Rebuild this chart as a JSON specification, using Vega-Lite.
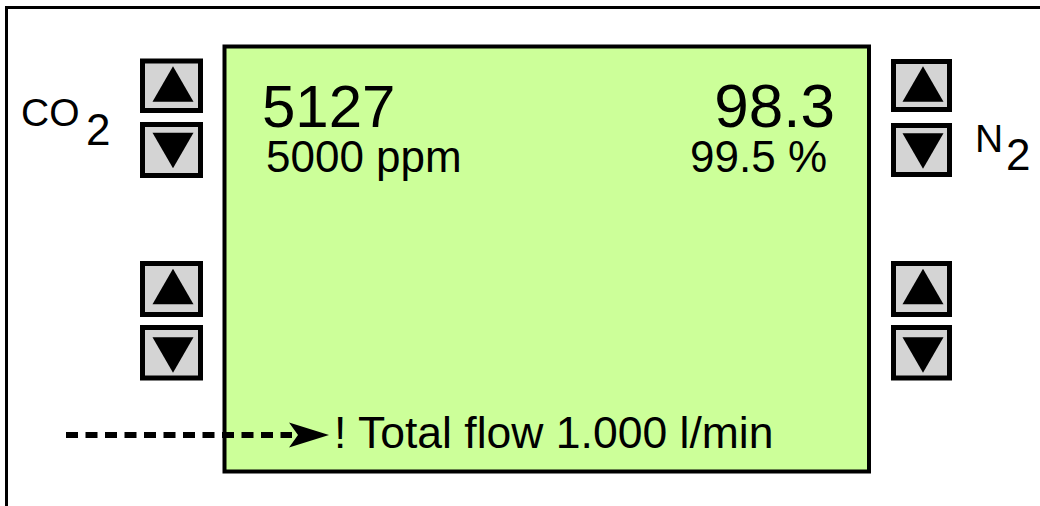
{
  "$schema": "https://vega.github.io/schema/vega-lite/v6.json",
  "width": 1040,
  "height": 506,
  "autosize": {"type": "fit", "contains": "padding"},
  "padding": 0,
  "background": "white",
  "config": {"view": {"stroke": null}, "text": {"font": "Liberation Sans", "color": "#000000"}},
  "datasets": {
    "frame": [{"part": "outer frame", "x0": 6.5, "x1": 1070, "y0": 7.5, "y1": 540}],
    "panel": [{"part": "display", "x0": 224.5, "x1": 869, "y0": 46.5, "y1": 471.5}],
    "buttons": [
      {"gas": "CO2", "slot": "upper", "dir": "up", "x0": 142.5, "x1": 200.5, "y0": 61, "y1": 110.5},
      {"gas": "CO2", "slot": "upper", "dir": "down", "x0": 142.5, "x1": 200.5, "y0": 124.5, "y1": 175.5},
      {"gas": "CO2", "slot": "lower", "dir": "up", "x0": 142.5, "x1": 200.5, "y0": 263.5, "y1": 314.5},
      {"gas": "CO2", "slot": "lower", "dir": "down", "x0": 142.5, "x1": 200.5, "y0": 327.5, "y1": 378},
      {"gas": "N2", "slot": "upper", "dir": "up", "x0": 893.5, "x1": 949.5, "y0": 61.5, "y1": 109.5},
      {"gas": "N2", "slot": "upper", "dir": "down", "x0": 893.5, "x1": 949.5, "y0": 125.5, "y1": 174.5},
      {"gas": "N2", "slot": "lower", "dir": "up", "x0": 893.5, "x1": 949.5, "y0": 263.5, "y1": 314.5},
      {"gas": "N2", "slot": "lower", "dir": "down", "x0": 893.5, "x1": 949.5, "y0": 327.5, "y1": 378}
    ],
    "glyphs": [
      {"gas": "CO2", "slot": "upper", "dir": "up", "cx": 173, "cy": 84},
      {"gas": "CO2", "slot": "upper", "dir": "down", "cx": 173, "cy": 150.5},
      {"gas": "CO2", "slot": "lower", "dir": "up", "cx": 173, "cy": 286.5},
      {"gas": "CO2", "slot": "lower", "dir": "down", "cx": 173, "cy": 355},
      {"gas": "N2", "slot": "upper", "dir": "up", "cx": 923, "cy": 84},
      {"gas": "N2", "slot": "upper", "dir": "down", "cx": 923, "cy": 151},
      {"gas": "N2", "slot": "lower", "dir": "up", "cx": 923, "cy": 286.5},
      {"gas": "N2", "slot": "lower", "dir": "down", "cx": 923, "cy": 355}
    ],
    "arrow": [{"part": "pointer", "x0": 66, "x1": 292, "y": 435, "tipx": 309}],
    "labels": [
      {"role": "reading-left", "text": "5127", "x": 262, "y": 127},
      {"role": "setpoint-left", "text": "5000 ppm", "x": 266, "y": 172},
      {"role": "reading-right", "text": "98.3", "x": 835, "y": 127},
      {"role": "setpoint-right", "text": "99.5 %", "x": 827, "y": 172},
      {"role": "status", "text": "! Total flow 1.000 l/min", "x": 334, "y": 448},
      {"role": "gas", "text": "CO", "x": 21, "y": 126},
      {"role": "gas", "text": "N", "x": 975, "y": 152},
      {"role": "sub", "text": "2", "x": 86, "y": 145},
      {"role": "sub", "text": "2", "x": 1006, "y": 170}
    ]
  },
  "layer": [
    {
      "data": {"name": "frame"},
      "mark": {"type": "rect", "fillOpacity": 0, "stroke": "#000000", "strokeWidth": 3, "clip": true},
      "encoding": {
        "x": {"field": "x0", "type": "quantitative", "scale": {"domain": [0, 1040], "nice": false, "zero": false}, "axis": null},
        "x2": {"field": "x1"},
        "y": {"field": "y0", "type": "quantitative", "scale": {"domain": [0, 506], "nice": false, "zero": false, "reverse": true}, "axis": null},
        "y2": {"field": "y1"}
      }
    },
    {
      "data": {"name": "panel"},
      "mark": {"type": "rect", "fill": "#ccff99", "stroke": "#000000", "strokeWidth": 4},
      "encoding": {
        "x": {"field": "x0", "type": "quantitative", "axis": null},
        "x2": {"field": "x1"},
        "y": {"field": "y0", "type": "quantitative", "axis": null},
        "y2": {"field": "y1"}
      }
    },
    {
      "data": {"name": "buttons"},
      "mark": {"type": "rect", "fill": "#d4d4d4", "stroke": "#000000", "strokeWidth": 5},
      "encoding": {
        "x": {"field": "x0", "type": "quantitative", "axis": null},
        "x2": {"field": "x1"},
        "y": {"field": "y0", "type": "quantitative", "axis": null},
        "y2": {"field": "y1"}
      }
    },
    {
      "data": {"name": "glyphs"},
      "mark": {"type": "point", "filled": true, "color": "#000000", "opacity": 1, "size": 1681, "strokeWidth": 0},
      "encoding": {
        "x": {"field": "cx", "type": "quantitative", "axis": null},
        "y": {"field": "cy", "type": "quantitative", "axis": null},
        "shape": {"field": "dir", "type": "nominal", "scale": {"domain": ["up", "down"], "range": ["triangle-up", "triangle-down"]}, "legend": null}
      }
    },
    {
      "data": {"name": "arrow"},
      "mark": {"type": "rule", "color": "#000000", "strokeWidth": 6, "strokeDash": [12, 7.5], "strokeCap": "butt"},
      "encoding": {
        "x": {"field": "x0", "type": "quantitative", "axis": null},
        "x2": {"field": "x1"},
        "y": {"field": "y", "type": "quantitative", "axis": null}
      }
    },
    {
      "data": {"name": "arrow"},
      "mark": {"type": "point", "filled": true, "color": "#000000", "opacity": 1, "size": 1600, "strokeWidth": 0, "shape": "M-1,-0.625L1,0L-1,0.625L-0.55,0Z"},
      "encoding": {
        "x": {"field": "tipx", "type": "quantitative", "axis": null},
        "y": {"field": "y", "type": "quantitative", "axis": null}
      }
    },
    {
      "data": {"name": "labels"},
      "transform": [{"filter": "datum.role === 'reading-left'"}],
      "mark": {"type": "text", "fontSize": 60, "align": "left", "baseline": "alphabetic"},
      "encoding": {
        "x": {"field": "x", "type": "quantitative", "axis": null},
        "y": {"field": "y", "type": "quantitative", "axis": null},
        "text": {"field": "text"}
      }
    },
    {
      "data": {"name": "labels"},
      "transform": [{"filter": "datum.role === 'reading-right'"}],
      "mark": {"type": "text", "fontSize": 62, "align": "right", "baseline": "alphabetic"},
      "encoding": {
        "x": {"field": "x", "type": "quantitative", "axis": null},
        "y": {"field": "y", "type": "quantitative", "axis": null},
        "text": {"field": "text"}
      }
    },
    {
      "data": {"name": "labels"},
      "transform": [{"filter": "datum.role === 'setpoint-left'"}],
      "mark": {"type": "text", "fontSize": 44, "align": "left", "baseline": "alphabetic"},
      "encoding": {
        "x": {"field": "x", "type": "quantitative", "axis": null},
        "y": {"field": "y", "type": "quantitative", "axis": null},
        "text": {"field": "text"}
      }
    },
    {
      "data": {"name": "labels"},
      "transform": [{"filter": "datum.role === 'setpoint-right'"}],
      "mark": {"type": "text", "fontSize": 44, "align": "right", "baseline": "alphabetic"},
      "encoding": {
        "x": {"field": "x", "type": "quantitative", "axis": null},
        "y": {"field": "y", "type": "quantitative", "axis": null},
        "text": {"field": "text"}
      }
    },
    {
      "data": {"name": "labels"},
      "transform": [{"filter": "datum.role === 'status'"}],
      "mark": {"type": "text", "fontSize": 44.5, "align": "left", "baseline": "alphabetic"},
      "encoding": {
        "x": {"field": "x", "type": "quantitative", "axis": null},
        "y": {"field": "y", "type": "quantitative", "axis": null},
        "text": {"field": "text"}
      }
    },
    {
      "data": {"name": "labels"},
      "transform": [{"filter": "datum.role === 'gas'"}],
      "mark": {"type": "text", "fontSize": 39, "align": "left", "baseline": "alphabetic"},
      "encoding": {
        "x": {"field": "x", "type": "quantitative", "axis": null},
        "y": {"field": "y", "type": "quantitative", "axis": null},
        "text": {"field": "text"}
      }
    },
    {
      "data": {"name": "labels"},
      "transform": [{"filter": "datum.role === 'sub'"}],
      "mark": {"type": "text", "fontSize": 44, "align": "left", "baseline": "alphabetic"},
      "encoding": {
        "x": {"field": "x", "type": "quantitative", "axis": null},
        "y": {"field": "y", "type": "quantitative", "axis": null},
        "text": {"field": "text"}
      }
    }
  ]
}
